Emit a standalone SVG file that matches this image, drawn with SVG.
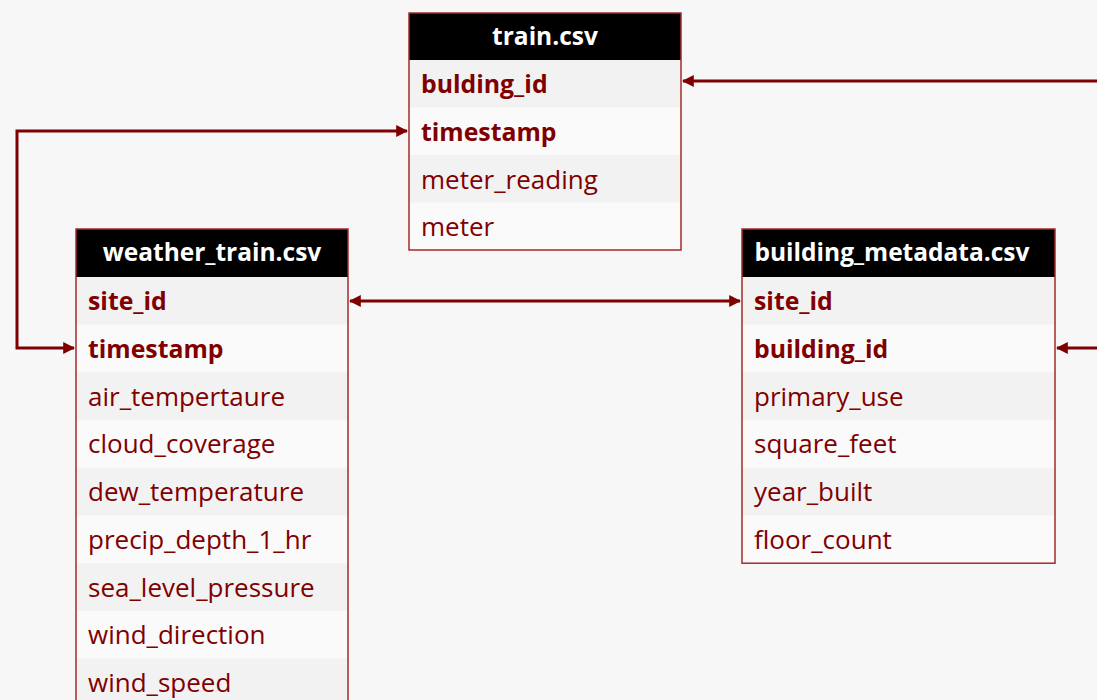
<svg xmlns="http://www.w3.org/2000/svg" width="1097" height="700" viewBox="0 0 1097 700">
  <style>
    .bg { fill: #f7f7f7; }
    .hdr { fill: #000000; }
    .rowA { fill: #f2f2f2; }
    .rowB { fill: #fafafa; }
    .frame { fill: none; stroke: #a52a2a; stroke-width: 1.5; }
    .title { font-family: "Open Sans", "Liberation Sans", sans-serif; font-size: 24.5px; font-weight: bold; fill: #ffffff; text-anchor: middle; }
    .fld { font-family: "Open Sans", "Liberation Sans", sans-serif; font-size: 26px; fill: #800000; }
    .key { font-weight: bold; font-size: 24.8px; }
    .link { fill: none; stroke: #7f0000; stroke-width: 3; }
  </style>
  <defs>
    <marker id="arrowEnd" viewBox="0 0 10 10" refX="9" refY="5" markerWidth="4" markerHeight="4" orient="auto" markerUnits="strokeWidth">
      <path d="M0,0 L10,5 L0,10 z" fill="#7f0000"/>
    </marker>
    <marker id="arrowStart" viewBox="0 0 10 10" refX="1" refY="5" markerWidth="4" markerHeight="4" orient="auto" markerUnits="strokeWidth">
      <path d="M10,0 L0,5 L10,10 z" fill="#7f0000"/>
    </marker>
  </defs>

  <rect class="bg" x="0" y="0" width="1097" height="700"/>

  <!-- train.csv -->
  <g id="train">
    <rect class="hdr" x="409" y="13" width="272" height="47"/>
    <rect class="rowA" x="409" y="60" width="272" height="47.5"/>
    <rect class="rowB" x="409" y="107.5" width="272" height="47.5"/>
    <rect class="rowA" x="409" y="155" width="272" height="47.5"/>
    <rect class="rowB" x="409" y="202.5" width="272" height="47.5"/>
    <rect class="frame" x="409" y="13" width="272" height="237"/>
    <text class="title" x="545" y="45">train.csv</text>
    <text class="fld key" x="421" y="93">bulding_id</text>
    <text class="fld key" x="421" y="141">timestamp</text>
    <text class="fld" x="421" y="189">meter_reading</text>
    <text class="fld" x="421" y="236">meter</text>
  </g>

  <!-- weather_train.csv -->
  <g id="weather_train">
    <rect class="hdr" x="76" y="229" width="272" height="48"/>
    <rect class="rowA" x="76" y="277" width="272" height="47.7"/>
    <rect class="rowB" x="76" y="324.7" width="272" height="47.7"/>
    <rect class="rowA" x="76" y="372.4" width="272" height="47.7"/>
    <rect class="rowB" x="76" y="420.1" width="272" height="47.7"/>
    <rect class="rowA" x="76" y="467.8" width="272" height="47.7"/>
    <rect class="rowB" x="76" y="515.5" width="272" height="47.7"/>
    <rect class="rowA" x="76" y="563.2" width="272" height="47.7"/>
    <rect class="rowB" x="76" y="610.9" width="272" height="47.7"/>
    <rect class="rowA" x="76" y="658.6" width="272" height="47.7"/>
    <rect class="frame" x="76" y="229" width="272" height="477.3"/>
    <text class="title" x="212" y="261">weather_train.csv</text>
    <text class="fld key" x="88" y="310">site_id</text>
    <text class="fld key" x="88" y="358">timestamp</text>
    <text class="fld" x="88" y="406">air_tempertaure</text>
    <text class="fld" x="88" y="453">cloud_coverage</text>
    <text class="fld" x="88" y="501">dew_temperature</text>
    <text class="fld" x="88" y="549">precip_depth_1_hr</text>
    <text class="fld" x="88" y="597">sea_level_pressure</text>
    <text class="fld" x="88" y="644">wind_direction</text>
    <text class="fld" x="88" y="692">wind_speed</text>
  </g>

  <!-- building_metadata.csv -->
  <g id="building_metadata">
    <rect class="hdr" x="742" y="229" width="313" height="48"/>
    <rect class="rowA" x="742" y="277" width="313" height="47.7"/>
    <rect class="rowB" x="742" y="324.7" width="313" height="47.7"/>
    <rect class="rowA" x="742" y="372.4" width="313" height="47.7"/>
    <rect class="rowB" x="742" y="420.1" width="313" height="47.7"/>
    <rect class="rowA" x="742" y="467.8" width="313" height="47.7"/>
    <rect class="rowB" x="742" y="515.5" width="313" height="47.7"/>
    <rect class="frame" x="742" y="229" width="313" height="334.2"/>
    <text class="title" x="892" y="261">building_metadata.csv</text>
    <text class="fld key" x="754" y="310">site_id</text>
    <text class="fld key" x="754" y="358">building_id</text>
    <text class="fld" x="754" y="406">primary_use</text>
    <text class="fld" x="754" y="453">square_feet</text>
    <text class="fld" x="754" y="501">year_built</text>
    <text class="fld" x="754" y="549">floor_count</text>
  </g>

  <!-- relationships -->
  <g id="connectors">
    <path class="link" d="M1097,81 L683,81" marker-end="url(#arrowEnd)"/>
    <path class="link" d="M407,131 L17,131 L17,348 L74,348" marker-start="url(#arrowStart)" marker-end="url(#arrowEnd)"/>
    <path class="link" d="M350,301 L740,301" marker-start="url(#arrowStart)" marker-end="url(#arrowEnd)"/>
    <path class="link" d="M1097,348 L1057,348" marker-end="url(#arrowEnd)"/>
  </g>
</svg>
